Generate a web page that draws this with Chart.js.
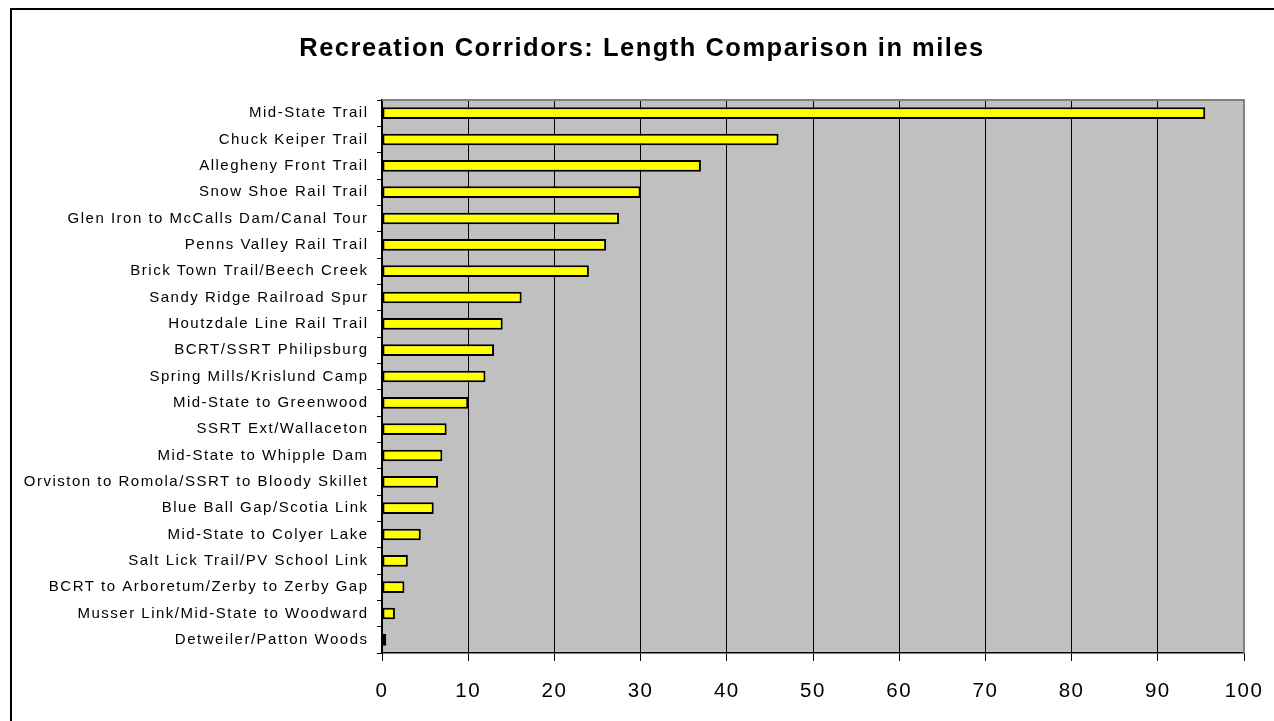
<!DOCTYPE html>
<html>
<head>
<meta charset="utf-8">
<script src="https://cdn.jsdelivr.net/npm/chart.js@4.4.0/dist/chart.umd.min.js"></script>
<style>
  html, body { margin: 0; padding: 0; background: #fff; overflow: hidden; }
  #wrap { position: absolute; left: 0; top: 0; width: 1274px; height: 721px; }
  #frame { position: absolute; left: 10px; top: 8px; width: 1300px; height: 760px; border: 2px solid #000; box-sizing: border-box; pointer-events: none; }
  canvas { position: absolute; left: 0; top: 0; }
</style>
</head>
<body>
<div id="wrap">
  <canvas id="c" width="1274" height="721"></canvas>
  <div id="frame"></div>
</div>
<script>
const titleText = "Recreation Corridors: Length Comparison in miles";
const categories = [
  "Mid-State Trail",
  "Chuck Keiper Trail",
  "Allegheny Front Trail",
  "Snow Shoe Rail Trail",
  "Glen Iron to McCalls Dam/Canal Tour",
  "Penns Valley Rail Trail",
  "Brick Town Trail/Beech Creek",
  "Sandy Ridge Railroad Spur",
  "Houtzdale Line Rail Trail",
  "BCRT/SSRT Philipsburg",
  "Spring Mills/Krislund Camp",
  "Mid-State to Greenwood",
  "SSRT Ext/Wallaceton",
  "Mid-State to Whipple Dam",
  "Orviston to Romola/SSRT to Bloody Skillet",
  "Blue Ball Gap/Scotia Link",
  "Mid-State to Colyer Lake",
  "Salt Lick Trail/PV School Link",
  "BCRT to Arboretum/Zerby to Zerby Gap",
  "Musser Link/Mid-State to Woodward",
  "Detweiler/Patton Woods"
];
const lengthMiles = [95.5, 46, 37, 30, 27.5, 26, 24, 16.2, 14, 13, 12, 10, 7.5, 7, 6.5, 6, 4.5, 3, 2.6, 1.5, 0.5];
const xTickValues = [0, 10, 20, 30, 40, 50, 60, 70, 80, 90, 100];

const FONT = "'Liberation Sans', Arial, sans-serif";

function setSpacing(chart) { try { chart.ctx.letterSpacing = '1.5px'; } catch (e) {} }
const spacingPlugin = {
  id: 'spacing',
  beforeInit: setSpacing,
  beforeUpdate: setSpacing,
  beforeLayout: setSpacing,
  beforeDraw: setSpacing,
  afterLayout(chart) {
    // let the category labels extend into the left padding without clipping
    chart.scales.y.left = 0;
  }
};

const plotBg = {
  id: 'plotBg',
  beforeDraw(chart) {
    const {ctx, chartArea: a} = chart;
    ctx.save();
    ctx.fillStyle = '#C0C0C0';
    ctx.fillRect(a.left, a.top, a.right - a.left, a.bottom - a.top);
    ctx.restore();
  },
  afterDatasetsDraw(chart) {
    const {ctx, chartArea: a} = chart;
    ctx.save();
    ctx.strokeStyle = '#808080';
    ctx.lineWidth = 2;
    ctx.beginPath();
    ctx.moveTo(a.left, a.top);
    ctx.lineTo(a.right, a.top);
    ctx.lineTo(a.right, a.bottom);
    ctx.stroke();
    ctx.restore();
  }
};

new Chart(document.getElementById('c'), {
  type: 'bar',
  data: {
    labels: categories,
    datasets: [{
      data: lengthMiles,
      backgroundColor: '#FFFF00',
      borderColor: '#000000',
      borderWidth: 2,
      borderSkipped: false,
      barPercentage: 0.44,
      categoryPercentage: 1.0
    }]
  },
  options: {
    indexAxis: 'y',
    responsive: false,
    animation: false,
    devicePixelRatio: 1,
    layout: { padding: { left: 40, right: 30, top: 0, bottom: 0 } },
    plugins: {
      legend: { display: false },
      tooltip: { enabled: false },
      title: {
        display: true,
        text: titleText,
        color: '#000',
        font: { family: FONT, size: 25.5, weight: 'bold', lineHeight: 1.2 },
        padding: { top: 34, bottom: 35.4 }
      }
    },
    scales: {
      x: {
        type: 'linear',
        min: 0,
        max: 100,
        afterBuildTicks(scale) { scale.ticks = xTickValues.map(v => ({ value: v })); },
        afterFit(scale) { scale.height = 68; scale.paddingRight = 0; scale.paddingLeft = 0; },
        grid: {
          display: true,
          drawOnChartArea: true,
          drawTicks: true,
          tickLength: 8,
          color: '#000',
          lineWidth: 1
        },
        border: { display: true, color: '#000', width: 1.5 },
        ticks: {
          color: '#000',
          padding: 18,
          font: { family: FONT, size: 20.5 },
          maxRotation: 0
        }
      },
      y: {
        type: 'category',
        afterFit(scale) { scale.width = 342; scale.paddingTop = 0; scale.paddingBottom = 0; },
        grid: {
          display: true,
          drawOnChartArea: false,
          drawTicks: true,
          tickLength: 5,
          offset: true,
          color: '#000',
          lineWidth: 1
        },
        border: { display: true, color: '#000', width: 1.5 },
        ticks: {
          color: '#000',
          padding: 8.5,
          autoSkip: false,
          font: { family: FONT, size: 15 }
        }
      }
    }
  },
  plugins: [spacingPlugin, plotBg]
});
</script>
</body>
</html>
